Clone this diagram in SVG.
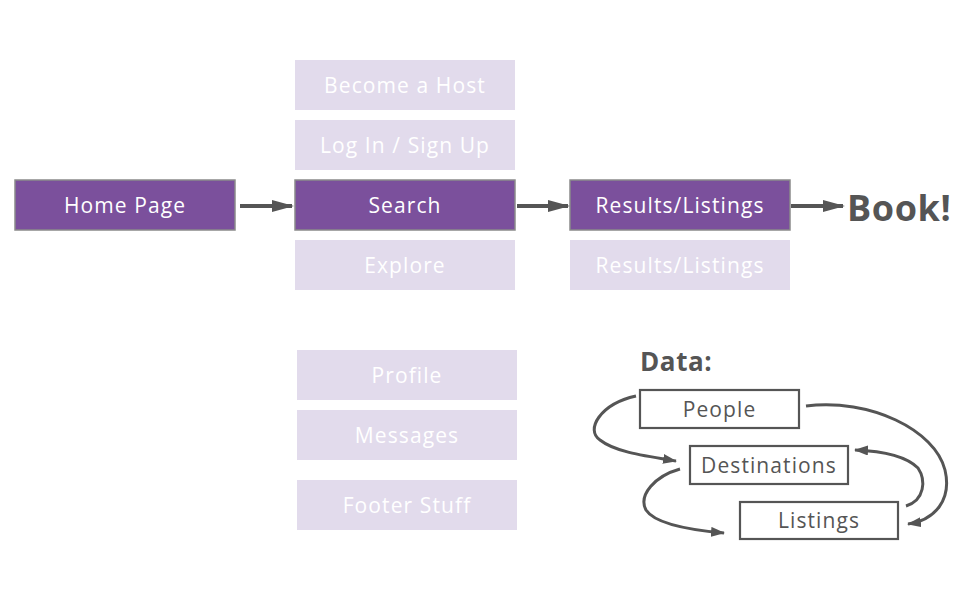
<svg xmlns="http://www.w3.org/2000/svg" width="960" height="600" viewBox="0 0 960 600">
<defs>
<style>
.dark rect{fill:#7b509c;stroke:#8a8a8a;stroke-width:1.5}
.light rect{fill:#e2dbec}
.data rect{fill:#fff;stroke:#555;stroke-width:2.2}
text{font-family:"Open Sans","Noto Sans",sans-serif;text-anchor:middle;dominant-baseline:central}
.dark text,.light text{fill:#fff;font-size:21px;letter-spacing:1.1px}
.data text{fill:#555;font-size:21px;letter-spacing:1.1px}
.flow{stroke:#555;stroke-width:4;fill:none}
.curve{stroke:#555;stroke-width:3;fill:none}
</style>
<marker id="ah" markerWidth="14" markerHeight="10" refX="13" refY="5" orient="auto" markerUnits="userSpaceOnUse"><path d="M0,0 L14,5 L0,10 Z" fill="#555"/></marker>
<marker id="bh" markerWidth="22" markerHeight="12" refX="20" refY="6" orient="auto" markerUnits="userSpaceOnUse"><path d="M0,0 L22,6 L0,12 Z" fill="#555"/></marker>
</defs>
<rect width="960" height="600" fill="#fff"/>
<g id="home" class="dark"><rect x="15" y="180" width="220" height="50"/><text x="125" y="205">Home Page</text></g>
<g id="host" class="light"><rect x="295" y="60" width="220" height="50"/><text x="405" y="85">Become a Host</text></g>
<g id="login" class="light"><rect x="295" y="120" width="220" height="50"/><text x="405" y="145">Log In / Sign Up</text></g>
<g id="search" class="dark"><rect x="295" y="180" width="220" height="50"/><text x="405" y="205">Search</text></g>
<g id="explore" class="light"><rect x="295" y="240" width="220" height="50"/><text x="405" y="265">Explore</text></g>
<g id="results" class="dark"><rect x="570" y="180" width="220" height="50"/><text x="680" y="205">Results/Listings</text></g>
<g id="results2" class="light"><rect x="570" y="240" width="220" height="50"/><text x="680" y="265">Results/Listings</text></g>
<g id="book"><text x="847" y="207" style="font-size:36px;font-weight:bold;fill:#555;text-anchor:start;letter-spacing:0.6px">Book!</text></g>
<g id="profile" class="light"><rect x="297" y="350" width="220" height="50"/><text x="407" y="375">Profile</text></g>
<g id="messages" class="light"><rect x="297" y="410" width="220" height="50"/><text x="407" y="435">Messages</text></g>
<g id="footer" class="light"><rect x="297" y="480" width="220" height="50"/><text x="407" y="505">Footer Stuff</text></g>
<g id="datalabel"><text x="640" y="361" style="font-size:26px;font-weight:bold;fill:#555;text-anchor:start;letter-spacing:0.6px">Data:</text></g>
<g id="people" class="data"><rect x="640" y="390" width="159" height="38"/><text x="719.5" y="409">People</text></g>
<g id="destinations" class="data"><rect x="690" y="446" width="158" height="38"/><text x="769" y="465">Destinations</text></g>
<g id="listings" class="data"><rect x="740" y="502" width="158" height="37"/><text x="819" y="520">Listings</text></g>
<g id="connectors">
<line class="flow" x1="240" y1="206" x2="292" y2="206" marker-end="url(#bh)"/>
<line class="flow" x1="517" y1="206" x2="568" y2="206" marker-end="url(#bh)"/>
<line class="flow" x1="791" y1="206" x2="843" y2="206" marker-end="url(#bh)"/>
<path class="curve" d="M636,396 C600,404 585,430 600,440 C615,452 645,456 676,461" marker-end="url(#ah)"/>
<path class="curve" d="M680,469 C655,476 638,495 646,510 C655,524 690,530 724,533" marker-end="url(#ah)"/>
<path class="curve" d="M906,506 C925,500 926,480 918,468 C905,455 880,451 855,450" marker-end="url(#ah)"/>
<path class="curve" d="M806,406 C870,398 935,430 945,470 C952,500 935,520 908,524" marker-end="url(#ah)"/>
</g>
</svg>
